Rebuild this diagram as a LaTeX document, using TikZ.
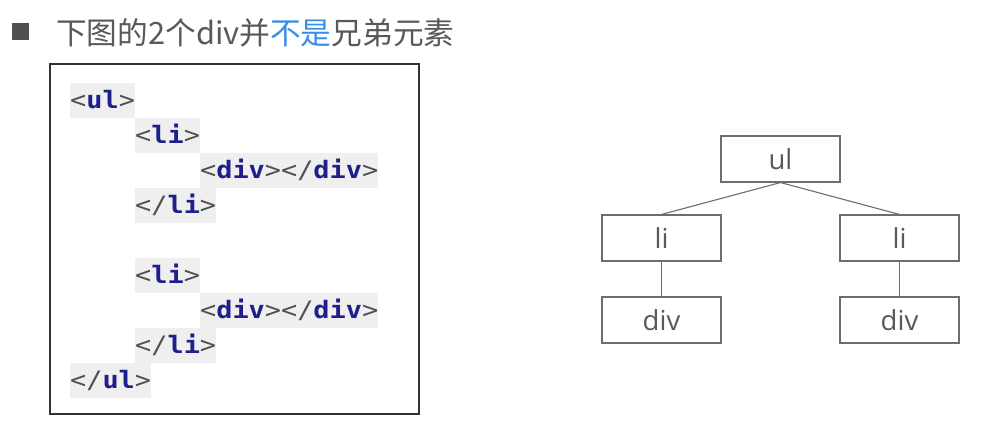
\documentclass[tikz,border=0pt]{standalone}
\usepackage{fontspec}
\usepackage{xcolor}
\usepackage{tikz}
\setmainfont{Open Sans}
\setmonofont{DejaVu Sans Mono}[FakeStretch=1.12]
\newfontfamily\cjk{Noto Sans CJK SC}
\definecolor{bg}{HTML}{FFFFFF}
\definecolor{text}{HTML}{595959}
\definecolor{hl}{HTML}{3A8EE6}
\definecolor{frame}{HTML}{333333}
\definecolor{codebg}{HTML}{EFEFEF}
\definecolor{brk}{HTML}{505050}
\definecolor{tagc}{HTML}{1E1E8C}
\definecolor{edge}{HTML}{6E6E6E}
\newcommand\otag[1]{{\color{brk}<}{\bfseries\color{tagc}#1}{\color{brk}>}}
\newcommand\ctag[1]{{\color{brk}</}{\bfseries\color{tagc}#1}{\color{brk}>}}
\tikzset{
  tbox/.style={draw=edge, line width=1.1pt, minimum width=119pt, minimum height=46pt,
    inner sep=0pt, text=text, font=\fontsize{27.5}{30}\selectfont},
  link/.style={draw=edge, line width=1.1pt},
  codeln/.style={fill=codebg, anchor=north west, inner sep=0pt, text height=25pt,
    text depth=10pt, font=\ttfamily\fontsize{24}{35}\selectfont},
  frm/.style={draw=frame, line width=1.5pt},
}
\begin{document}
\begin{tikzpicture}[x=1pt,y=-1pt]
  \useasboundingbox[fill=bg] (0,0) rectangle (990,430);

  % heading
  \node[fill=brk, minimum size=17pt, inner sep=0pt] (sq) at (20.5,32) {};
  \node[anchor=west, inner sep=0pt, text=text, font=\cjk\fontsize{30.7}{33}\selectfont]
    (title) at (56,33) {下图的2个div并\textcolor{hl}{不是}兄弟元素};

  % code listing
  \draw[frm] (50,64) rectangle (419,414);
  \node[codeln] (c1) at (70,83) {\otag{ul}};
  \node[codeln] (c2) at (135,118) {\otag{li}};
  \node[codeln] (c3) at (200,153) {\otag{div}\ctag{div}};
  \node[codeln] (c4) at (135,188) {\ctag{li}};
  \node[codeln] (c6) at (135,258) {\otag{li}};
  \node[codeln] (c7) at (200,293) {\otag{div}\ctag{div}};
  \node[codeln] (c8) at (135,328) {\ctag{li}};
  \node[codeln] (c9) at (70,363) {\ctag{ul}};

  % tree
  \node[tbox] (ul) at (780.5,159) {ul};
  \node[tbox] (liL) at (661.5,238) {li};
  \node[tbox] (liR) at (899.5,238) {li};
  \node[tbox] (divL) at (661.5,320) {div};
  \node[tbox] (divR) at (899.5,320) {div};

  \draw[link] (ul.south) -- (liL.north);
  \draw[link] (ul.south) -- (liR.north);
  \draw[link] (liL.south) -- (divL.north);
  \draw[link] (liR.south) -- (divR.north);
\end{tikzpicture}
\end{document}
